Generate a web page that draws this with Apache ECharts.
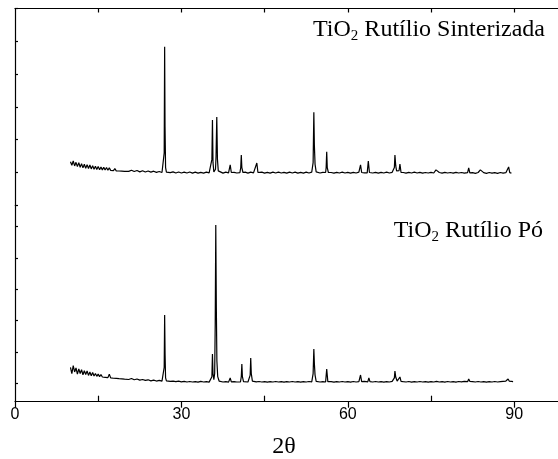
<!DOCTYPE html>
<html>
<head>
<meta charset="utf-8">
<script src="https://cdn.jsdelivr.net/npm/echarts@6/dist/echarts.min.js"></script>
<style>
  html, body { margin: 0; padding: 0; background: #fff; }
  #xrd { width: 558px; height: 459px; }
</style>
</head>
<body>
<div id="xrd"></div>
<script>
// 2θ tick labels
const majorTicks = [0, 30, 60, 90];
const minorTicks = [15, 45, 75];
const topTicks = [15, 30, 45, 60, 75, 90];

// TiO2 rutilo sinterizada: baseline readings [2θ, counts]
const sinterBase = [
  [10.0, 1330], [10.25, 1220], [10.5, 1350], [10.75, 1200], [11.0, 1310], [11.25, 1180], [11.5, 1300], [11.75, 1160],
  [12.0, 1270], [12.25, 1140], [12.5, 1250], [12.75, 1130], [13.0, 1240], [13.25, 1120], [13.5, 1230], [13.75, 1110],
  [14.0, 1210], [14.25, 1100], [14.5, 1190], [14.75, 1095], [15.0, 1180], [15.25, 1085], [15.5, 1170], [15.75, 1080],
  [16.0, 1160], [16.25, 1075], [16.5, 1150], [16.75, 1070], [17.0, 1140], [17.25, 1065], [17.5, 1125], [17.75, 1055],
  [18.0, 1120], [18.25, 1050], [18.5, 1110], [18.75, 1045], [19.0, 1100], [19.25, 1040], [19.5, 1090], [19.75, 1035],
  [20.0, 1080], [20.5, 1035], [21.0, 1070], [21.5, 1030], [22.0, 1060], [22.5, 1020], [23.0, 1055], [23.5, 1015],
  [24.0, 1045], [24.5, 1010], [25.0, 1040], [25.5, 1005], [26.0, 1030], [26.5, 1000], [27.5, 1025], [28.0, 995],
  [28.5, 1020], [29.0, 985], [29.5, 1015], [30.0, 985], [30.5, 1010], [31.0, 985], [31.5, 1015], [32.0, 980],
  [32.5, 1010], [33.0, 980], [33.5, 1005], [34.0, 980], [34.5, 1010], [35.0, 990], [37.0, 1010], [37.5, 980],
  [38.0, 1010], [38.5, 990], [39.5, 1005], [40.0, 985], [41.5, 1010], [42.0, 980], [42.5, 1010], [43.0, 990],
  [44.0, 985], [44.5, 1010], [45.0, 980], [45.5, 1005], [46.0, 980], [46.5, 1010], [47.0, 985], [47.5, 1010],
  [48.0, 985], [48.5, 1005], [49.0, 980], [49.5, 1010], [50.0, 985], [50.5, 1010], [51.0, 980], [51.5, 1005],
  [52.0, 980], [52.5, 1010], [53.0, 985], [53.5, 1010], [54.5, 1015], [55.0, 985], [55.5, 1005], [57.0, 1000],
  [57.5, 980], [58.0, 1005], [58.5, 985], [59.0, 1010], [59.5, 985], [60.0, 1005], [60.5, 980], [61.0, 1005],
  [61.5, 985], [62.0, 1010], [63.0, 990], [64.5, 985], [65.0, 1005], [65.5, 980], [66.0, 1005], [66.5, 985],
  [67.0, 1010], [67.5, 985], [68.0, 1005], [70.0, 1000], [70.5, 980], [71.0, 1005], [71.5, 985], [72.0, 1010],
  [72.5, 985], [73.0, 1005], [73.5, 980], [74.0, 1000], [74.5, 985], [75.0, 1005], [75.5, 985], [75.9, 1080],
  [76.5, 1000], [77.0, 980], [77.5, 1005], [78.0, 985], [78.5, 1000], [79.0, 980], [79.5, 1005], [80.0, 985],
  [80.5, 1000], [81.0, 980], [82.5, 995], [83.0, 975], [83.5, 1000], [83.9, 1080], [84.5, 995], [85.0, 975],
  [85.5, 1000], [86.0, 980], [86.5, 995], [87.0, 975], [87.5, 1000], [88.0, 980], [88.5, 995], [89.5, 980]
];

// TiO2 rutilo sinterizada: peaks
const sinterPeaks = [
  [[26.75, 1010], [26.9, 1600], [26.98, 4830], [27.05, 2400], [27.15, 1150], [27.3, 1010]],
  [[35.35, 1000], [35.5, 1400], [35.6, 2600], [35.7, 1300], [35.85, 1020], [36.0, 1000], [36.15, 1100],
   [36.25, 1500], [36.38, 2690], [36.5, 1400], [36.65, 1050], [36.85, 1000]],
  [[38.6, 995], [38.8, 1230], [39.0, 1000]],
  [[40.55, 995], [40.7, 1150], [40.8, 1530], [40.9, 1150], [41.1, 1000]],
  [[43.35, 995], [43.6, 1290], [43.8, 1000]],
  [[53.6, 1010], [53.75, 1300], [53.88, 2840], [53.97, 1850], [54.1, 1250], [54.3, 1020]],
  [[56.0, 1000], [56.1, 1150], [56.2, 1630], [56.3, 1150], [56.5, 1000]],
  [[62.1, 995], [62.3, 1230], [62.5, 1000]],
  [[63.5, 990], [63.7, 1350], [63.9, 1000]],
  [[68.2, 1000], [68.4, 1150], [68.5, 1530], [68.65, 1200], [68.8, 1050], [69.0, 1010], [69.25, 1060],
   [69.4, 1260], [69.6, 1000]],
  [[81.6, 995], [81.8, 1140], [82.0, 990]],
  [[88.8, 990], [89.0, 1170], [89.2, 995]]
];

// TiO2 rutilo pó: baseline readings [2θ, counts]
const poBase = [
  [10.0, 1100], [10.25, 900], [10.5, 1150], [10.75, 950], [11.0, 1080], [11.25, 880], [11.5, 1050], [11.75, 900],
  [12.0, 1020], [12.25, 860], [12.5, 990], [12.75, 870], [13.0, 980], [13.25, 840], [13.5, 950], [13.75, 830],
  [14.0, 930], [14.25, 820], [14.5, 900], [14.75, 810], [15.0, 880], [15.25, 800], [15.5, 870], [15.75, 790],
  [16.0, 850], [16.25, 780], [16.5, 830], [16.75, 770], [17.0, 880], [17.25, 760], [17.5, 800], [17.75, 750],
  [18.0, 790], [18.25, 745], [18.5, 780], [18.75, 735], [19.0, 770], [19.25, 730], [19.5, 760], [19.75, 720],
  [20.0, 755], [20.5, 710], [21.0, 740], [21.5, 700], [22.0, 725], [22.5, 690], [23.0, 710], [23.5, 680],
  [24.0, 700], [24.5, 665], [25.0, 690], [25.5, 660], [26.0, 680], [26.5, 655], [27.5, 670], [28.0, 650],
  [28.5, 660], [29.0, 640], [29.5, 655], [30.0, 635], [30.5, 650], [31.0, 630], [31.5, 645], [32.0, 630],
  [32.5, 640], [33.0, 625], [33.5, 650], [34.0, 630], [34.5, 640], [35.0, 625], [37.0, 650], [37.5, 630],
  [38.0, 640], [38.5, 625], [39.5, 640], [40.0, 630], [41.5, 645], [42.0, 630], [43.0, 650], [43.5, 635],
  [44.0, 645], [44.5, 630], [45.0, 640], [45.5, 625], [46.0, 640], [46.5, 630], [47.0, 645], [47.5, 630],
  [48.0, 640], [48.5, 625], [49.0, 640], [49.5, 630], [50.0, 645], [50.5, 630], [51.0, 640], [51.5, 625],
  [52.0, 640], [52.5, 630], [53.0, 645], [53.5, 635], [54.5, 650], [55.0, 630], [55.5, 640], [57.0, 640],
  [57.5, 625], [58.0, 640], [58.5, 630], [59.0, 645], [59.5, 630], [60.0, 640], [60.5, 625], [61.0, 645],
  [61.5, 630], [62.0, 640], [63.0, 650], [64.5, 630], [65.0, 645], [65.5, 630], [66.0, 640], [66.5, 625],
  [67.0, 640], [67.5, 630], [68.0, 650], [70.0, 640], [70.5, 630], [71.0, 645], [71.5, 625], [72.0, 640],
  [72.5, 630], [73.0, 645], [73.5, 630], [74.0, 640], [74.5, 625], [75.0, 640], [75.5, 630], [76.0, 650],
  [76.5, 630], [77.0, 640], [77.5, 625], [78.0, 645], [78.5, 630], [79.0, 640], [79.5, 625], [80.0, 645],
  [80.5, 635], [81.0, 650], [82.5, 640], [83.0, 630], [83.5, 645], [84.0, 630], [84.5, 640], [85.0, 625],
  [85.5, 640], [86.0, 630], [86.5, 645], [87.0, 630], [87.5, 640], [88.0, 650], [88.5, 660], [89.5, 650],
  [89.8, 640]
];

// TiO2 rutilo pó: peaks
const poPeaks = [
  [[26.75, 660], [26.9, 1100], [26.98, 2770], [27.06, 1500], [27.15, 760], [27.3, 665]],
  [[35.35, 630], [35.5, 800], [35.6, 1524], [35.7, 900], [35.85, 700], [36.0, 900], [36.1, 2500],
   [36.2, 5645], [36.3, 3000], [36.4, 1300], [36.55, 800], [36.8, 660]],
  [[38.6, 630], [38.8, 757], [39.0, 635]],
  [[40.65, 630], [40.8, 800], [40.9, 1204], [41.0, 800], [41.2, 640]],
  [[42.25, 635], [42.4, 850], [42.5, 1396], [42.6, 900], [42.8, 660]],
  [[53.6, 640], [53.75, 900], [53.88, 1684], [53.98, 1200], [54.1, 850], [54.3, 650]],
  [[56.0, 630], [56.2, 1045], [56.4, 640]],
  [[62.1, 630], [62.3, 853], [62.5, 640]],
  [[63.6, 635], [63.8, 757], [64.0, 640]],
  [[68.2, 640], [68.4, 760], [68.5, 981], [68.65, 780], [68.9, 660], [69.2, 690], [69.4, 789], [69.6, 650]],
  [[81.6, 640], [81.8, 725], [82.0, 650]],
  [[88.7, 650], [88.9, 725], [89.1, 660]]
];

// junta linha de base e picos numa só curva ordenada
function pattern (base, peaks) {
  const inPeak = x => peaks.some(p => x >= p[0][0] && x <= p[p.length - 1][0]);
  const pts = base.filter(p => !inPeak(p[0]));
  peaks.forEach(p => { pts.push(...p); });
  return pts.sort((a, b) => a[0] - b[0]);
}

const chart = echarts.init(document.getElementById('xrd'));

const serif = '"Liberation Serif", "Times New Roman", serif';
const sans = '"Liberation Sans", Arial, sans-serif';
const lineBlack = { color: '#000', width: 1.2 };
const xMax = 97.9; // o quadro original está cortado à direita

function panelLabel (text, top, right) {
  return {
    text: text,
    top: top,
    right: right,
    padding: 0,
    textStyle: {
      fontFamily: serif,
      fontSize: 24,
      fontWeight: 'normal',
      color: '#000',
      lineHeight: 28,
      rich: {
        sub: { fontFamily: serif, fontSize: 15, lineHeight: 15, verticalAlign: 'bottom', color: '#000' }
      }
    }
  };
}

const option = {
  animation: false,
  backgroundColor: '#fff',
  title: [
    panelLabel('TiO{sub|2} Rutílio Sinterizada', 16, 13),
    panelLabel('TiO{sub|2} Rutílio Pó', 217, 15),
    {
      text: '2θ',
      left: 284,
      top: 435,
      textAlign: 'center',
      padding: 0,
      textStyle: { fontFamily: serif, fontSize: 24, fontWeight: 'normal', color: '#000', lineHeight: 24 }
    }
  ],
  grid: [
    { left: 15, top: 8.5, height: 196.8, right: 0 },
    { left: 15, top: 205.3, height: 196.4, right: 0 },
    // só para os ticks do eixo esquerdo do painel de baixo
    { left: 15, top: 226.7, height: 156.6, right: 0 }
  ],
  xAxis: [
    {
      gridIndex: 0, type: 'value', position: 'top', min: 0, max: xMax,
      axisLine: { onZero: false, lineStyle: lineBlack },
      axisTick: { inside: true, length: 4, lineStyle: lineBlack, customValues: topTicks },
      axisLabel: { show: false },
      splitLine: { show: false }
    },
    {
      gridIndex: 1, type: 'value', min: 0, max: xMax,
      axisLine: { onZero: false, lineStyle: lineBlack },
      axisTick: { inside: false, length: 6, lineStyle: lineBlack, customValues: majorTicks },
      axisLabel: {
        margin: 5, fontFamily: sans, fontSize: 16, color: '#000',
        customValues: majorTicks
      },
      splitLine: { show: false }
    },
    {
      gridIndex: 1, type: 'value', min: 0, max: xMax, position: 'bottom',
      axisLine: { show: false, onZero: false },
      axisTick: { inside: true, length: 6, lineStyle: lineBlack, customValues: minorTicks },
      axisLabel: { show: false },
      splitLine: { show: false }
    },
    {
      gridIndex: 2, type: 'value', min: 0, max: xMax, show: false
    }
  ],
  yAxis: [
    {
      gridIndex: 0, type: 'value', min: 0, max: 6000, interval: 1000,
      axisLine: { show: true, lineStyle: lineBlack },
      axisTick: { show: true, inside: true, length: 3, lineStyle: lineBlack },
      axisLabel: { show: false },
      splitLine: { show: false }
    },
    {
      gridIndex: 1, type: 'value', min: 0, max: 6275,
      axisLine: { show: true, lineStyle: lineBlack },
      axisTick: { show: false },
      axisLabel: { show: false },
      splitLine: { show: false }
    },
    {
      gridIndex: 2, type: 'value', min: 0, max: 5, interval: 1,
      axisLine: { show: false },
      axisTick: { show: true, inside: true, length: 3, lineStyle: lineBlack },
      axisLabel: { show: false },
      splitLine: { show: false }
    }
  ],
  series: [
    {
      name: 'TiO2 Rutílio Sinterizada',
      type: 'line',
      xAxisIndex: 0,
      yAxisIndex: 0,
      data: pattern(sinterBase, sinterPeaks),
      showSymbol: false,
      lineStyle: { color: '#000', width: 1.2 }
    },
    {
      name: 'TiO2 Rutílio Pó',
      type: 'line',
      xAxisIndex: 1,
      yAxisIndex: 1,
      data: pattern(poBase, poPeaks),
      showSymbol: false,
      lineStyle: { color: '#000', width: 1.2 }
    }
  ]
};

chart.setOption(option);
</script>
</body>
</html>
